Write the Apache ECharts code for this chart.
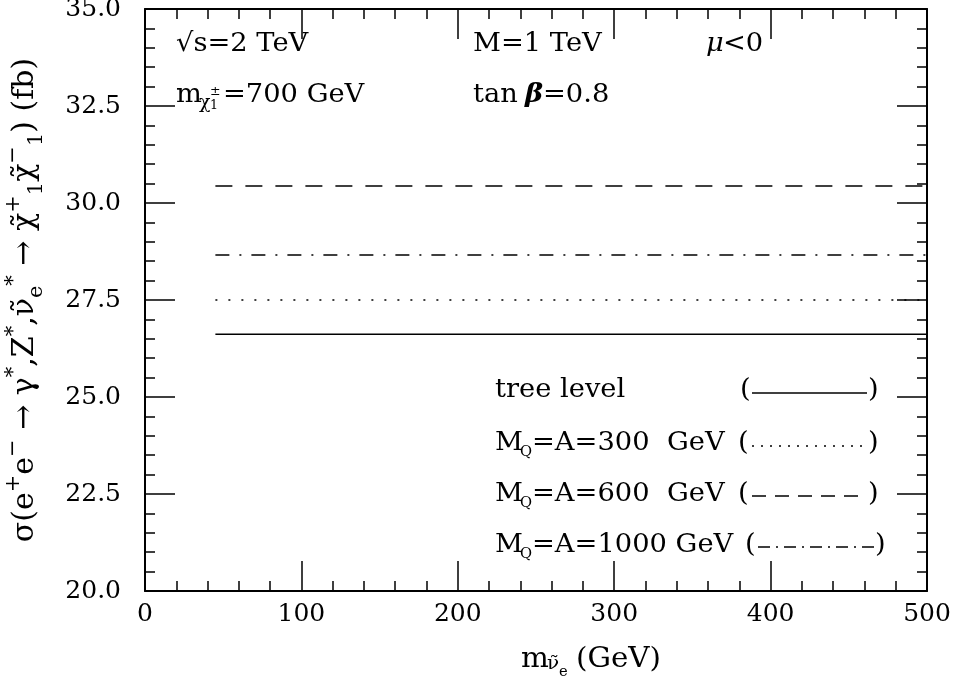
<!DOCTYPE html>
<html>
<head>
<meta charset="utf-8">
<script src="https://cdn.jsdelivr.net/npm/echarts@6/dist/echarts.min.js"></script>
<style>
  html, body { margin: 0; padding: 0; background: #fff; }
  #main { width: 954px; height: 691px; }
</style>
</head>
<body>
<div id="main"></div>
<script>
// sneutrino mass range (GeV) where the curves are drawn
var mSneutrino = [45, 500];
// cross sections (fb)
var treeLevel = [26.62, 26.62];
var mq300 = [27.5, 27.5];
var mq600 = [30.44, 30.44];
var mq1000 = [28.66, 28.66];

var seriesNames = ['tree level', 'M_Q=A=300 GeV', 'M_Q=A=600 GeV', 'M_Q=A=1000 GeV'];

var FONT = 'DejaVu Serif';

function pairs(xs, ys) {
    var out = [];
    for (var i = 0; i < xs.length; i++) out.push([xs[i], ys[i]]);
    return out;
}

var chart = echarts.init(document.getElementById('main'));

function axisX(pos, labels) {
    return {
        type: 'value', position: pos, min: 0, max: 500, interval: 100,
        axisLine: { show: true, onZero: false, lineStyle: { color: '#000', width: 2 } },
        axisTick: { show: true, inside: true, length: 30, lineStyle: { color: '#000', width: 1.5 } },
        minorTick: { show: true, splitNumber: 5, length: 10, lineStyle: { color: '#000', width: 1.5 } },
        splitLine: { show: false },
        axisLabel: { show: labels, margin: 11, color: '#000', fontFamily: FONT, fontSize: 25 }
    };
}
function axisY(pos, labels) {
    return {
        type: 'value', position: pos, min: 20, max: 35, interval: 2.5,
        axisLine: { show: true, onZero: false, lineStyle: { color: '#000', width: 2 } },
        axisTick: { show: true, inside: true, length: 30, lineStyle: { color: '#000', width: 1.5 } },
        minorTick: { show: true, splitNumber: 5, length: 10, lineStyle: { color: '#000', width: 1.5 } },
        splitLine: { show: false },
        axisLabel: {
            show: labels, margin: 24, color: '#000', fontFamily: FONT, fontSize: 25,
            formatter: function (v) { return v.toFixed(1); }
        }
    };
}

var yName = 'σ(e{sup|+}e{sup|−} → γ{sup|*},Z{sup|*},ν̃{sub|e}{sup|*} → χ̃{sup|+}{sub|1}χ̃{sup|−}{sub|1}) (fb)';

var yAxisLeft = axisY('left', true);
yAxisLeft.name = yName;
yAxisLeft.nameLocation = 'middle';
yAxisLeft.nameRotate = 90;
yAxisLeft.nameGap = 98;
yAxisLeft.nameTextStyle = {
    color: '#000', fontFamily: FONT, fontSize: 30, lineHeight: 44,
    rich: {
        sup: { fontFamily: FONT, fontSize: 21, verticalAlign: 'top', lineHeight: 44 },
        sub: { fontFamily: FONT, fontSize: 21, verticalAlign: 'bottom', lineHeight: 44 }
    }
};

function txt(x, y, s, size, extra) {
    size = size || 26;
    var style = { x: 0, y: 0, text: s, fill: '#000', font: size + 'px "' + FONT + '"', verticalAlign: 'middle', align: 'left' };
    if (extra) for (var k in extra) style[k] = extra[k];
    return { type: 'text', x: x, y: y, scaleX: 1.05, style: style, z: 10 };
}
function sample(x1, x2, y, dash) {
    return {
        type: 'line', z: 10,
        shape: { x1: x1, y1: y, x2: x2, y2: y },
        style: { stroke: '#000', lineWidth: 1.5, lineDash: dash }
    };
}

var dashes = [null, [2, 7], [14, 9], [12, 6, 2, 6]];

chart.setOption({
    animation: false,
    backgroundColor: '#fff',
    grid: { left: 145, right: 27, top: 9, bottom: 100, outerBoundsMode: 'none', containLabel: false },
    xAxis: [axisX('bottom', true), axisX('top', false)],
    yAxis: [yAxisLeft, axisY('right', false)],
    series: [
        { name: seriesNames[0], type: 'line', data: pairs(mSneutrino, treeLevel), showSymbol: false,
          lineStyle: { color: '#000', width: 1.5, type: 'solid' } },
        { name: seriesNames[1], type: 'line', data: pairs(mSneutrino, mq300), showSymbol: false,
          lineStyle: { color: '#000', width: 1.5, type: [2, 11] } },
        { name: seriesNames[2], type: 'line', data: pairs(mSneutrino, mq600), showSymbol: false,
          lineStyle: { color: '#000', width: 1.5, type: [17, 13] } },
        { name: seriesNames[3], type: 'line', data: pairs(mSneutrino, mq1000), showSymbol: false,
          lineStyle: { color: '#000', width: 1.5, type: [14, 10, 2, 10] } }
    ],
    graphic: [
        // x axis title
        txt(521, 660, 'm', 28),
        txt(547, 664, 'ν̃', 19),
        txt(559, 672, 'e', 14),
        txt(576, 660, '(GeV)', 28),
        // top annotations
        txt(176, 44, '√s=2 TeV'),
        txt(176, 95, 'm'),
        txt(199, 103, 'χ', 18),
        txt(210, 92, '±', 12),
        txt(210, 106, '1', 12),
        txt(223, 95, '=700 GeV'),
        txt(473, 44, 'M=1 TeV'),
        txt(473, 95, 'tan'),
        txt(525, 95, 'β', 26, { font: 'italic bold 26px "' + FONT + '"' }),
        txt(543, 95, '=0.8'),
        txt(706, 44, 'μ', 26, { font: 'italic 26px "' + FONT + '"' }),
        txt(723, 44, '<0'),
        // legend
        txt(495, 390, 'tree level'),
        txt(740, 390, '('),
        sample(752, 867, 393, dashes[0]),
        txt(868, 390, ')'),

        txt(495, 443, 'M'),
        txt(520, 452, 'Q', 14),
        txt(532, 443, '=A=300  GeV'),
        txt(738, 443, '('),
        sample(752, 866, 446, dashes[1]),
        txt(868, 443, ')'),

        txt(495, 494, 'M'),
        txt(520, 503, 'Q', 14),
        txt(532, 494, '=A=600  GeV'),
        txt(738, 494, '('),
        sample(752, 866, 496, dashes[2]),
        txt(868, 494, ')'),

        txt(495, 545, 'M'),
        txt(520, 554, 'Q', 14),
        txt(532, 545, '=A=1000 GeV'),
        txt(745, 545, '('),
        sample(758, 874, 547, dashes[3]),
        txt(875, 545, ')')
    ]
});
</script>
</body>
</html>
